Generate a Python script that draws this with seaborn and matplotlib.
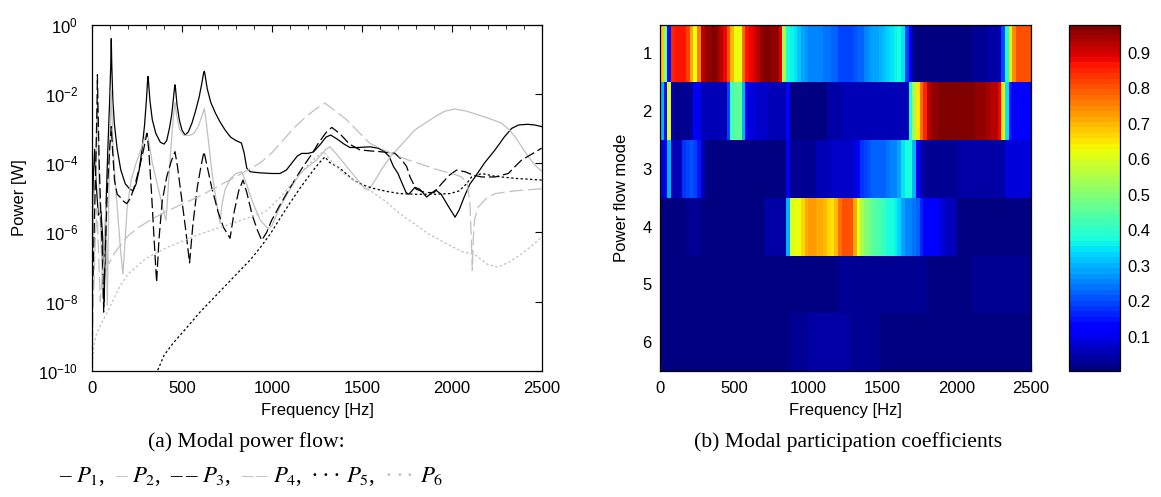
import numpy as np
import pandas as pd
import matplotlib
matplotlib.use("Agg")
import matplotlib.pyplot as plt
from matplotlib.ticker import MultipleLocator, NullLocator, FixedLocator
import seaborn as sns

# ---------------- data: modal power flow (frequency [Hz], log10 power [W]) -------------
p1_freq = [0, 8, 15, 22, 35, 50, 60, 68, 76, 88, 98, 104, 107, 110, 116, 125, 140, 160, 185, 210,
           228, 245, 262, 278, 292, 302, 309, 311, 314, 322, 335, 355, 380, 400, 415, 430, 443, 453,
           459, 461, 464, 472, 485, 500, 517, 535, 555, 575, 595, 610, 620, 624, 628, 640, 660, 685,
           710, 740, 770, 800, 830, 845, 860, 880, 930, 1000, 1044, 1080, 1110, 1140, 1165, 1200,
           1230, 1270, 1300, 1326, 1360, 1400, 1433, 1480, 1544, 1590, 1620, 1650, 1675, 1700, 1720,
           1745, 1760, 1794, 1820, 1859, 1890, 1910, 1940, 1980, 2017, 2040, 2070, 2100, 2128, 2180,
           2239, 2290, 2331, 2370, 2420, 2460, 2500]
p1_log = [-6.0, -4.3, -3.6, -4.5, -5.5, -5.4, -6.2, -8.0, -5.5, -3.6, -2.2, -1.2, -0.41, -1.2, -2.2,
          -2.9, -3.6, -4.2, -4.6, -4.75, -4.8, -4.6, -4.2, -3.6, -2.9, -2.2, -1.6, -1.5, -1.65, -2.2,
          -2.75, -3.15, -3.4, -3.45, -3.35, -3.0, -2.6, -2.1, -1.8, -1.74, -1.85, -2.3, -2.75, -3.05,
          -3.19, -3.1, -2.85, -2.5, -2.1, -1.7, -1.4, -1.35, -1.45, -1.85, -2.25, -2.55, -2.8, -3.05,
          -3.25, -3.35, -3.42, -3.7, -4.15, -4.25, -4.28, -4.3, -4.3, -4.2, -4.0, -3.8, -3.72, -3.72,
          -3.68, -3.45, -3.25, -3.19, -3.3, -3.45, -3.55, -3.55, -3.53, -3.57, -3.65, -3.8, -4.1,
          -4.3, -4.55, -4.85, -4.9, -4.7, -4.75, -4.98, -4.85, -4.78, -4.9, -5.25, -5.56, -5.35,
          -4.95, -4.6, -4.4, -4.0, -3.62, -3.25, -3.0, -2.9, -2.88, -2.9, -2.95]

p2_freq = [0, 10, 20, 30, 40, 52, 60, 70, 78, 85, 95, 103, 107, 111, 118, 130, 145, 160, 172, 182,
           195, 217, 245, 272, 295, 305, 315, 335, 360, 385, 400, 411, 420, 435, 450, 461, 470, 485,
           510, 540, 565, 590, 610, 624, 632, 650, 665, 680, 697, 711, 722, 740, 770, 800, 832, 855,
           880, 906, 935, 978, 1000, 1044, 1100, 1156, 1200, 1248, 1300, 1322, 1360, 1415, 1470,
           1510, 1535, 1560, 1590, 1619, 1660, 1693, 1740, 1794, 1850, 1906, 1960, 2017, 2080, 2146,
           2210, 2276, 2320, 2350, 2390, 2424, 2460, 2500]
p2_log = [-7.8, -5.0, -4.4, -2.2, -4.8, -6.5, -7.9, -6.0, -5.2, -8.1, -4.5, -2.6, -1.9, -2.6, -3.6,
          -4.6, -5.6, -6.6, -7.2, -6.4, -5.3, -4.5, -4.0, -3.6, -3.25, -3.14, -3.35, -4.0, -4.55,
          -5.1, -5.45, -5.65, -5.0, -3.8, -2.8, -2.25, -2.6, -3.0, -3.2, -3.2, -3.15, -2.95, -2.65,
          -2.43, -2.7, -3.5, -4.2, -4.75, -5.3, -5.74, -5.2, -4.75, -4.45, -4.3, -4.25, -4.55, -4.95,
          -5.3, -5.65, -5.89, -5.8, -5.27, -4.75, -4.3, -4.1, -3.91, -3.6, -3.53, -3.75, -4.1, -4.45,
          -4.7, -4.78, -4.6, -4.35, -4.1, -3.8, -3.62, -3.35, -3.04, -2.85, -2.66, -2.5, -2.44, -2.5,
          -2.61, -2.72, -2.85, -3.05, -3.24, -3.55, -3.82, -4.05, -4.25]

p3_freq = [0, 12, 22, 28, 30, 33, 40, 50, 58, 65, 72, 85, 98, 107, 114, 125, 140, 160, 175, 193,
           215, 240, 265, 287, 305, 315, 330, 345, 359, 372, 390, 415, 440, 461, 475, 495, 520, 542,
           560, 585, 605, 622, 640, 665, 700, 730, 767, 790, 815, 839, 860, 890, 920, 943, 970, 998,
           1040, 1081, 1130, 1173, 1220, 1257, 1300, 1332, 1377, 1430, 1489, 1550, 1600, 1650, 1683,
           1720, 1748, 1767, 1800, 1850, 1900, 1943, 1985, 2026, 2072, 2120, 2165, 2239, 2313, 2350,
           2387, 2440, 2498]
p3_log = [-8.5, -6.0, -3.8, -2.3, -1.45, -2.3, -4.0, -5.6, -6.6, -8.3, -6.8, -4.8, -3.6, -2.95, -3.6,
          -4.5, -4.9, -5.0, -5.1, -5.17, -5.0, -4.6, -4.1, -3.6, -3.14, -3.6, -4.8, -6.2, -7.44, -6.2,
          -5.1, -4.4, -3.95, -3.67, -4.1, -4.9, -5.9, -6.88, -5.8, -4.7, -4.1, -3.67, -4.1, -4.7,
          -5.4, -5.85, -6.17, -5.4, -4.8, -4.49, -4.85, -5.5, -5.95, -6.23, -6.0, -5.65, -5.25, -4.88,
          -4.45, -4.1, -3.75, -3.43, -3.12, -2.97, -3.15, -3.45, -3.62, -3.65, -3.67, -3.7, -3.72,
          -3.9, -4.1, -4.4, -4.75, -4.85, -4.85, -4.59, -4.35, -4.2, -4.25, -4.35, -4.4, -4.4, -4.3,
          -4.1, -3.91, -3.75, -3.57]

p4_freq = [0, 8, 18, 28, 36, 46, 58, 75, 95, 110, 128, 200, 260, 322, 406, 600, 832, 933, 1000,
           1060, 1119, 1180, 1240, 1294, 1340, 1415, 1480, 1544, 1620, 1700, 1757, 1840, 1924, 2000,
           2054, 2085, 2100, 2108, 2113, 2118, 2126, 2146, 2190, 2239, 2350, 2498]
p4_log = [-9.8, -8.0, -6.2, -5.3, -6.5, -8.0, -7.2, -6.6, -6.9, -6.75, -6.57, -6.1, -5.85, -5.65,
          -5.41, -4.95, -4.3, -4.0, -3.7, -3.35, -3.0, -2.7, -2.45, -2.27, -2.45, -2.75, -3.1, -3.43,
          -3.62, -3.8, -3.91, -4.05, -4.2, -4.3, -4.4, -4.6, -5.2, -6.3, -7.1, -6.2, -5.6, -5.27,
          -5.02, -4.88, -4.8, -4.74]

p5_freq = [355, 400, 450, 526, 600, 693, 785, 878, 933, 990, 1044, 1100, 1156, 1230, 1270, 1294,
           1320, 1378, 1452, 1500, 1563, 1640, 1711, 1800, 1900, 1990, 2040, 2080, 2109, 2165, 2239,
           2350, 2498]
p5_log = [-10.1, -9.55, -9.2, -8.75, -8.3, -7.8, -7.3, -6.8, -6.45, -6.05, -5.6, -5.15, -4.72, -4.2,
          -3.95, -3.82, -3.98, -4.15, -4.49, -4.62, -4.73, -4.82, -4.88, -4.9, -4.9, -4.88, -4.8,
          -4.6, -4.4, -4.3, -4.38, -4.44, -4.49]

p6_freq = [0, 8, 20, 45, 89, 150, 200, 300, 422, 600, 800, 961, 1044, 1174, 1230, 1285, 1340, 1396,
           1470, 1544, 1630, 1711, 1790, 1869, 1960, 2054, 2128, 2200, 2257, 2320, 2387, 2440, 2498]
p6_log = [-10.2, -9.4, -9.0, -8.7, -8.26, -7.6, -7.2, -6.75, -6.42, -6.05, -5.7, -5.41, -5.0, -4.2,
          -3.9, -3.67, -4.0, -4.3, -4.55, -4.78, -5.1, -5.46, -5.75, -6.04, -6.3, -6.55, -6.65,
          -6.93, -7.0, -6.85, -6.62, -6.4, -6.14]

# ---------------- data: modal participation coefficients (25 Hz bins, 0..2500 Hz) -------------
modes = [1, 2, 3, 4, 5, 6]
freq_ticks = [0, 500, 1000, 1500, 2000, 2500]
cbar_ticks = [0.1, 0.2, 0.3, 0.4, 0.5, 0.6, 0.7, 0.8, 0.9]

mode1 = [0.68, 0.50, 0.15, 0.85, 0.86, 0.87, 0.87, 0.82, 0.72, 0.62,
         0.76, 0.92, 0.95, 0.96, 0.97, 0.96, 0.93, 0.88, 0.80, 0.70,
         0.62, 0.62, 0.78, 0.86, 0.88, 0.90, 0.92, 0.95, 0.97, 0.97,
         0.96, 0.95, 0.90, 0.55, 0.38, 0.36, 0.34, 0.32, 0.28, 0.27,
         0.26, 0.26, 0.25, 0.25, 0.24, 0.24, 0.22, 0.22, 0.20, 0.20,
         0.20, 0.20, 0.21, 0.22, 0.23, 0.25, 0.27, 0.28, 0.29, 0.30,
         0.31, 0.33, 0.35, 0.36, 0.37, 0.35, 0.20, 0.10, 0.03, 0.015,
         0.015, 0.015, 0.015, 0.015, 0.015, 0.015, 0.015, 0.015, 0.015, 0.015,
         0.015, 0.015, 0.015, 0.015, 0.025, 0.025, 0.025, 0.025, 0.035, 0.035,
         0.045, 0.06, 0.20, 0.38, 0.60, 0.75, 0.80, 0.80, 0.80, 0.80]
mode2 = [0.30, 0.15, 0.60, 0.05, 0.015, 0.02, 0.03, 0.03, 0.03, 0.12,
         0.10, 0.06, 0.06, 0.06, 0.06, 0.06, 0.06, 0.06, 0.20, 0.42,
         0.46, 0.45, 0.30, 0.10, 0.08, 0.08, 0.075, 0.07, 0.065, 0.06,
         0.06, 0.055, 0.05, 0.05, 0.13, 0.015, 0.015, 0.015, 0.015, 0.015,
         0.015, 0.015, 0.015, 0.015, 0.015, 0.045, 0.045, 0.045, 0.045, 0.05,
         0.05, 0.05, 0.05, 0.05, 0.05, 0.05, 0.05, 0.05, 0.05, 0.05,
         0.05, 0.05, 0.05, 0.05, 0.05, 0.05, 0.05, 0.38, 0.55, 0.65,
         0.78, 0.85, 0.92, 0.95, 0.96, 0.97, 0.97, 0.97, 0.97, 0.97,
         0.97, 0.97, 0.97, 0.97, 0.97, 0.96, 0.96, 0.95, 0.94, 0.93,
         0.92, 0.88, 0.65, 0.35, 0.15, 0.12, 0.12, 0.12, 0.12, 0.12]
mode3 = [0.08, 0.10, 0.30, 0.06, 0.06, 0.06, 0.18, 0.20, 0.21, 0.20,
         0.15, 0.05, 0.015, 0.015, 0.015, 0.015, 0.015, 0.015, 0.015, 0.015,
         0.015, 0.015, 0.015, 0.015, 0.015, 0.015, 0.015, 0.015, 0.015, 0.015,
         0.015, 0.015, 0.015, 0.015, 0.10, 0.025, 0.025, 0.025, 0.025, 0.025,
         0.025, 0.025, 0.05, 0.055, 0.06, 0.06, 0.065, 0.065, 0.07, 0.07,
         0.07, 0.075, 0.08, 0.12, 0.18, 0.20, 0.21, 0.22, 0.22, 0.23,
         0.23, 0.24, 0.25, 0.26, 0.28, 0.34, 0.37, 0.37, 0.30, 0.12,
         0.05, 0.02, 0.02, 0.02, 0.02, 0.02, 0.02, 0.02, 0.02, 0.02,
         0.035, 0.035, 0.035, 0.035, 0.035, 0.035, 0.035, 0.035, 0.035, 0.035,
         0.035, 0.035, 0.035, 0.08, 0.08, 0.08, 0.08, 0.08, 0.08, 0.08]
mode4 = [0.015, 0.015, 0.015, 0.015, 0.015, 0.015, 0.015, 0.028, 0.028, 0.028,
         0.028, 0.015, 0.015, 0.015, 0.015, 0.015, 0.015, 0.015, 0.015, 0.015,
         0.015, 0.015, 0.015, 0.015, 0.015, 0.015, 0.015, 0.015, 0.045, 0.045,
         0.045, 0.045, 0.045, 0.045, 0.30, 0.60, 0.62, 0.62, 0.66, 0.72,
         0.73, 0.73, 0.72, 0.72, 0.70, 0.66, 0.65, 0.70, 0.78, 0.81,
         0.81, 0.80, 0.72, 0.62, 0.55, 0.50, 0.48, 0.46, 0.44, 0.43,
         0.41, 0.38, 0.37, 0.36, 0.33, 0.28, 0.26, 0.25, 0.24, 0.22,
         0.16, 0.12, 0.12, 0.11, 0.11, 0.10, 0.065, 0.065, 0.06, 0.06,
         0.015, 0.015, 0.015, 0.015, 0.015, 0.015, 0.015, 0.015, 0.015, 0.015,
         0.015, 0.015, 0.015, 0.015, 0.015, 0.015, 0.015, 0.015, 0.015, 0.015]
mode5 = [0.013, 0.013, 0.013, 0.013, 0.013, 0.013, 0.013, 0.013, 0.013, 0.013,
         0.013, 0.013, 0.013, 0.013, 0.013, 0.013, 0.013, 0.013, 0.013, 0.013,
         0.013, 0.013, 0.013, 0.013, 0.013, 0.013, 0.013, 0.013, 0.013, 0.013,
         0.013, 0.013, 0.013, 0.013, 0.013, 0.013, 0.013, 0.013, 0.013, 0.013,
         0.013, 0.013, 0.013, 0.013, 0.013, 0.013, 0.013, 0.013, 0.020, 0.020,
         0.020, 0.020, 0.020, 0.020, 0.020, 0.020, 0.020, 0.020, 0.020, 0.020,
         0.020, 0.020, 0.020, 0.020, 0.020, 0.020, 0.020, 0.020, 0.020, 0.020,
         0.020, 0.020, 0.016, 0.016, 0.016, 0.016, 0.016, 0.016, 0.016, 0.016,
         0.016, 0.016, 0.016, 0.016, 0.026, 0.026, 0.026, 0.026, 0.026, 0.026,
         0.026, 0.026, 0.026, 0.026, 0.026, 0.026, 0.026, 0.026, 0.026, 0.026]
mode6 = [0.012, 0.012, 0.012, 0.012, 0.012, 0.012, 0.012, 0.012, 0.012, 0.012,
         0.012, 0.012, 0.012, 0.012, 0.012, 0.012, 0.012, 0.012, 0.012, 0.012,
         0.012, 0.012, 0.012, 0.012, 0.012, 0.012, 0.012, 0.012, 0.012, 0.012,
         0.012, 0.012, 0.012, 0.012, 0.012, 0.028, 0.028, 0.028, 0.028, 0.028,
         0.045, 0.045, 0.045, 0.045, 0.045, 0.035, 0.035, 0.035, 0.045, 0.045,
         0.045, 0.028, 0.028, 0.028, 0.028, 0.028, 0.028, 0.028, 0.028, 0.012,
         0.012, 0.012, 0.012, 0.012, 0.012, 0.012, 0.012, 0.012, 0.012, 0.012,
         0.012, 0.012, 0.012, 0.012, 0.012, 0.012, 0.012, 0.012, 0.012, 0.012,
         0.012, 0.012, 0.012, 0.012, 0.012, 0.012, 0.012, 0.012, 0.012, 0.012,
         0.012, 0.012, 0.012, 0.012, 0.012, 0.012, 0.012, 0.012, 0.012, 0.012]

# ---------------- style ----------------
sns.set_theme(style="white")
plt.rcParams.update({
    "font.family": ["Liberation Sans", "DejaVu Sans"],
    "text.color": "black", "axes.labelcolor": "black",
    "xtick.color": "black", "ytick.color": "black",
    "axes.edgecolor": "black", "axes.linewidth": 0.9,
    "lines.scale_dashes": False,
})

W, H = 1161, 497
fig = plt.figure(figsize=(W / 100, H / 100), dpi=100)

def frac(x0, x1, ytop, ybot):
    return [x0 / W, 1 - ybot / H, (x1 - x0) / W, (ybot - ytop) / H]

ax1 = fig.add_axes(frac(92, 542, 24.5, 371))
ax2 = fig.add_axes(frac(660, 1031, 24.5, 371))
cax = fig.add_axes(frac(1069, 1120, 24.5, 371))

GREY = "#c0c0c0"
series = [
    (p1_freq, p1_log, "black", None),
    (p2_freq, p2_log, GREY, None),
    (p3_freq, p3_log, "black", (7.5, 2.8)),
    (p4_freq, p4_log, GREY, (10, 3.5)),
    (p5_freq, p5_log, "black", (1.7, 1.7)),
    (p6_freq, p6_log, GREY, (1.7, 1.7)),
]
for f, lv, col, dash in series:
    sns.lineplot(x=np.asarray(f, float), y=10.0 ** np.asarray(lv, float), ax=ax1,
                 color=col, linewidth=0.9, estimator=None, sort=False)
    ln = ax1.lines[-1]
    if dash is not None:
        ln.set_dashes(dash)

FS = 12
ax1.set_yscale("log")
ax1.set_xlim(0, 2500)
ax1.set_ylim(1e-10, 1)
ax1.yaxis.set_major_locator(FixedLocator([10.0 ** k for k in range(-10, 1, 2)]))
ax1.yaxis.set_minor_locator(NullLocator())
ax1.xaxis.set_major_locator(MultipleLocator(500))
ax1.xaxis.set_minor_locator(MultipleLocator(100))
ax1.tick_params(which="both", direction="in", top=True, right=True, labelsize=FS)
ax1.tick_params(axis="x", pad=7)
ax1.tick_params(axis="y", pad=10)
ax1.tick_params(which="major", length=5, width=0.8)
ax1.tick_params(which="minor", length=3, width=0.6)
ax1.set_xlabel("Frequency [Hz]", fontsize=FS)
ax1.set_ylabel("Power [W]", fontsize=FS)
ax1.xaxis.set_label_coords(0.5, -(403 - 371) / 346.5)
ax1.yaxis.set_label_coords((27 - 92) / 450, 0.5)
for s in ax1.spines.values():
    s.set_visible(True); s.set_color("black"); s.set_linewidth(0.9)

# heatmap
df = pd.DataFrame([mode1, mode2, mode3, mode4, mode5, mode6], index=modes)
cmap = matplotlib.colormaps["jet"].resampled(64)
sns.heatmap(df, ax=ax2, cbar_ax=cax, cmap=cmap, vmin=0.003, vmax=0.98,
            xticklabels=False, yticklabels=False)
ncol = df.shape[1]
ax2.set_xticks([t / 2500 * ncol for t in freq_ticks])
ax2.set_xticklabels([str(t) for t in freq_ticks], rotation=0)
ax2.set_yticks(np.arange(len(modes)) + 0.5)
ax2.set_yticklabels([str(m) for m in modes], rotation=0)
ax2.tick_params(direction="in", left=True, bottom=True, right=True, top=False,
                length=4, width=0.8, labelsize=FS)
ax2.tick_params(axis="x", pad=7)
ax2.tick_params(axis="y", pad=6)
ax2.set_xlabel("Frequency [Hz]", fontsize=FS)
ax2.set_ylabel("Power flow mode", fontsize=FS)
ax2.xaxis.set_label_coords(0.5, -(403 - 371) / 346.5)
ax2.yaxis.set_label_coords((629 - 660) / 371, 0.5)
for s in ax2.spines.values():
    s.set_visible(True); s.set_color("black"); s.set_linewidth(0.9)

cb = ax2.collections[0].colorbar
cb.set_ticks(cbar_ticks)
cb.set_ticklabels([f"{t:.1f}" for t in cbar_ticks])
cb.outline.set_linewidth(0.9)
cb.outline.set_edgecolor("black")
cax.tick_params(direction="in", left=True, right=True, labelright=True, labelleft=False,
                length=4, width=0.8, labelsize=FS, pad=5)

# captions
serif = ["Liberation Serif", "DejaVu Serif"]
CFS = 15.6
fig.text(246 / W, 1 - 442 / H, "(a) Modal power flow:", ha="center", va="center",
         family=serif, fontsize=CFS)
fig.text(848 / W, 1 - 442 / H, "(b) Modal participation coefficients", ha="center",
         va="center", family=serif, fontsize=CFS)

D = "\u2013"
M = "\u00b7"
pieces = [(D, "black", 6), ("$P_1$,", "black", 9),
          (D, GREY, 6), ("$P_2$,", "black", 9),
          (D, "black", 3), (D, "black", 6), ("$P_3$,", "black", 9),
          (D, GREY, 3), (D, GREY, 6), ("$P_4$,", "black", 9),
          (M, "black", 3), (M, "black", 3), (M, "black", 6), ("$P_5$,", "black", 9),
          (M, GREY, 3), (M, GREY, 3), (M, GREY, 6), ("$P_6$", "black", 0)]
renderer = fig.canvas.get_renderer()
objs, widths = [], []
ybase = 1 - 482 / H
for txt, col, gap in pieces:
    t = fig.text(0, ybase, txt, ha="left", va="baseline", color=col, family=serif,
                 fontsize=16.5, math_fontfamily="stix")
    objs.append(t)
    widths.append(t.get_window_extent(renderer).width)
total = sum(widths) + sum(p[2] for p in pieces)
x = 251 - total / 2
for t, w, p in zip(objs, widths, pieces):
    t.set_x(x / W)
    x += w + p[2]

fig.savefig("out.png", dpi=100)
